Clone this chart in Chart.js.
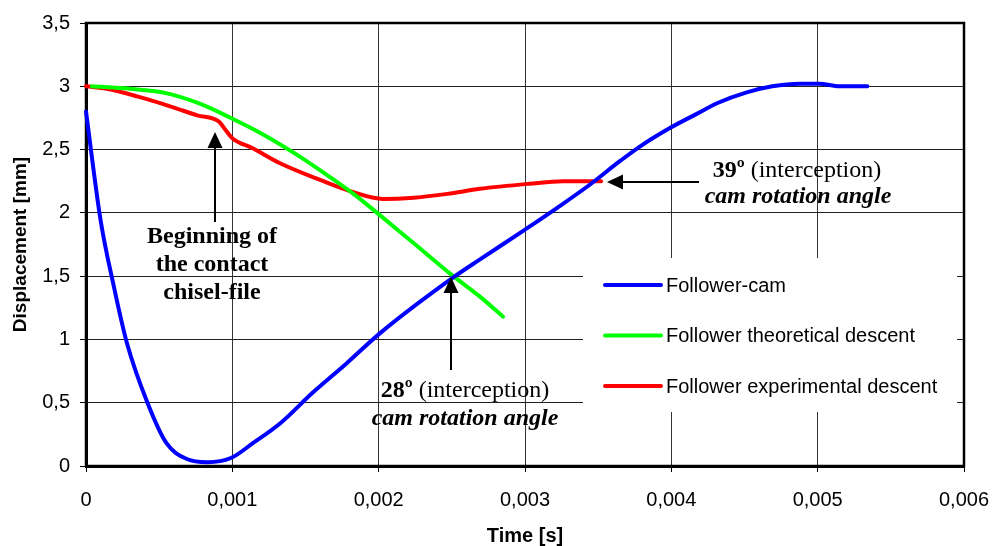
<!DOCTYPE html>
<html>
<head>
<meta charset="utf-8">
<title>Follower displacement</title>
<script src="https://cdn.jsdelivr.net/npm/chart.js@4.4.1/dist/chart.umd.min.js"></script>
<style>
  html, body { margin: 0; padding: 0; background: #fff; }
  #wrap { width: 992px; height: 546px; position: relative; }
</style>
</head>
<body>
<div id="wrap"><canvas id="chartCam"></canvas></div>
<script>
// Follower-cam (blue)
const camTime = [0, 0.0001, 0.00019, 0.00028, 0.00042, 0.00055, 0.00069, 0.00083, 0.00099, 0.00114,
  0.00133, 0.00155, 0.00178, 0.00201, 0.00251, 0.00269, 0.00299, 0.00322, 0.00344, 0.00365,
  0.00378, 0.00399, 0.00417, 0.00432, 0.00451, 0.00469, 0.00488, 0.00501, 0.00515, 0.00534];
const camDisp = [2.80, 1.94, 1.42, 0.97, 0.50, 0.18, 0.055, 0.03, 0.063, 0.18,
  0.34, 0.58, 0.81, 1.05, 1.49, 1.63, 1.86, 2.04, 2.22, 2.41,
  2.52, 2.67, 2.78, 2.87, 2.95, 3.0, 3.02, 3.02, 3.0, 3.0];

// Follower theoretical descent (green)
const theoTime = [0.00004, 0.0003, 0.00053, 0.00076, 0.00099, 0.00121, 0.00144, 0.00167, 0.00185,
  0.00201, 0.00224, 0.00251, 0.00269, 0.00285];
const theoDisp = [3.0, 2.98, 2.95, 2.87, 2.75, 2.62, 2.46, 2.28, 2.13,
  1.98, 1.76, 1.50, 1.34, 1.18];

// Follower experimental descent (red)
const expTime = [0, 0.00014, 0.00035, 0.00058, 0.00076, 0.00091, 0.00095, 0.001, 0.00114, 0.00133,
  0.0016, 0.00181, 0.00203, 0.00224, 0.00247, 0.00269, 0.00303, 0.00326, 0.00352];
const expDisp = [3.0, 2.98, 2.92, 2.84, 2.77, 2.72, 2.66, 2.59, 2.51, 2.39,
  2.26, 2.17, 2.11, 2.12, 2.15, 2.19, 2.23, 2.25, 2.25];

const seriesNames = ['Follower-cam', 'Follower theoretical descent', 'Follower experimental descent'];
const seriesColors = ['#0000ff', '#00ff00', '#ff0000'];

const xMin = 0, xMax = 0.006, xStep = 0.001;
const yMin = 0, yMax = 3.5, yStep = 0.5;

const toPoints = (xs, ys) => xs.map((x, i) => ({ x: x, y: ys[i] }));
const comma = v => String(Number(v.toFixed(3))).replace('.', ',');

const sansFont = "'Liberation Sans', Arial, sans-serif";
const serifFont = "'Liberation Serif', 'Times New Roman', serif";
Chart.defaults.font.family = sansFont;
Chart.defaults.color = '#000';

// white legend box + border
const frame = {
  id: 'frame',
  beforeDatasetsDraw(chart) {
    const { ctx, chartArea: a } = chart;
    ctx.save();
    ctx.strokeStyle = '#000';
    ctx.lineWidth = 2.5;
    ctx.strokeRect(a.left, a.top, a.right - a.left, a.bottom - a.top);

    const bx = 583, by = 258, bw = 374, bh = 154;
    ctx.fillStyle = '#fff';
    ctx.fillRect(bx, by, bw, bh);

    ctx.font = '20px ' + sansFont;
    ctx.textBaseline = 'middle';
    ctx.lineCap = 'round';
    seriesNames.forEach((name, i) => {
      const y = by + 27 + i * 50.5;
      ctx.strokeStyle = seriesColors[i];
      ctx.lineWidth = 4;
      ctx.beginPath();
      ctx.moveTo(bx + 22, y);
      ctx.lineTo(bx + 78, y);
      ctx.stroke();
      ctx.fillStyle = '#000';
      ctx.fillText(name, bx + 83, y + 1);
    });
    ctx.restore();
  }
};

function arrow(ctx, x1, y1, x2, y2) {
  // shaft from (x1,y1) to arrow tip (x2,y2)
  const ang = Math.atan2(y2 - y1, x2 - x1);
  const len = 16, half = 7.5;
  const bx = x2 - Math.cos(ang) * len, by = y2 - Math.sin(ang) * len;
  ctx.beginPath();
  ctx.moveTo(x1, y1);
  ctx.lineTo(bx, by);
  ctx.stroke();
  ctx.beginPath();
  ctx.moveTo(x2, y2);
  ctx.lineTo(bx + Math.sin(ang) * half, by - Math.cos(ang) * half);
  ctx.lineTo(bx - Math.sin(ang) * half, by + Math.cos(ang) * half);
  ctx.closePath();
  ctx.fill();
}

function mixedLine(ctx, cx, y, boldPart, rest) {
  ctx.font = 'bold 24px ' + serifFont;
  const w1 = ctx.measureText(boldPart).width;
  ctx.font = '24px ' + serifFont;
  const w2 = ctx.measureText(rest).width;
  const x0 = cx - (w1 + w2) / 2;
  ctx.textAlign = 'left';
  ctx.font = 'bold 24px ' + serifFont;
  ctx.fillText(boldPart, x0, y);
  ctx.font = '24px ' + serifFont;
  ctx.fillText(rest, x0 + w1, y);
}

const notes = {
  id: 'notes',
  afterDraw(chart) {
    const ctx = chart.ctx;
    ctx.save();
    ctx.fillStyle = '#000';
    ctx.strokeStyle = '#000';
    ctx.lineWidth = 2;
    ctx.textBaseline = 'alphabetic';

    arrow(ctx, 215, 222, 215, 132);
    ctx.textAlign = 'center';
    ctx.font = 'bold 24px ' + serifFont;
    ctx.fillText('Beginning of', 212, 243);
    ctx.fillText('the contact', 212, 271);
    ctx.fillText('chisel-file', 212, 299);

    arrow(ctx, 451, 370, 451, 277);
    mixedLine(ctx, 465, 397, '28º', ' (interception)');
    ctx.textAlign = 'center';
    ctx.font = 'italic bold 24px ' + serifFont;
    ctx.fillText('cam rotation angle', 465, 425);

    arrow(ctx, 699, 182, 607, 182);
    mixedLine(ctx, 797, 177, '39º', ' (interception)');
    ctx.textAlign = 'center';
    ctx.font = 'italic bold 24px ' + serifFont;
    ctx.fillText('cam rotation angle', 798, 203);
    ctx.restore();
  }
};

const lineStyle = color => ({
  borderColor: color,
  backgroundColor: color,
  borderWidth: 4,
  pointRadius: 0,
  cubicInterpolationMode: 'monotone',
  borderCapStyle: 'round',
  borderJoinStyle: 'round',
  fill: false,
  clip: false
});

new Chart(document.getElementById('chartCam').getContext('2d'), {
  type: 'line',
  data: {
    datasets: [
      Object.assign({ label: seriesNames[0], data: toPoints(camTime, camDisp) }, lineStyle(seriesColors[0])),
      Object.assign({ label: seriesNames[1], data: toPoints(theoTime, theoDisp) }, lineStyle(seriesColors[1])),
      Object.assign({ label: seriesNames[2], data: toPoints(expTime, expDisp) }, lineStyle(seriesColors[2]))
    ]
  },
  options: {
    responsive: true,
    maintainAspectRatio: false,
    animation: false,
    layout: { padding: { top: 23, right: 28, left: 0, bottom: 0 } },
    plugins: { legend: { display: false }, tooltip: { enabled: false } },
    scales: {
      x: {
        type: 'linear',
        min: xMin, max: xMax,
        afterFit: scale => {
          scale.height = 80;
          scale.paddingLeft = 0;
          scale.paddingRight = 0;
        },
        ticks: {
          stepSize: xStep,
          autoSkip: false,
          maxRotation: 0,
          padding: 16,
          color: '#000',
          font: { size: 20 },
          callback: v => comma(v)
        },
        grid: { color: '#333', lineWidth: 1, tickColor: '#000', tickLength: 6 },
        border: { display: true, color: '#000', width: 3 },
        title: {
          display: true, text: 'Time [s]', color: '#000',
          font: { size: 20, weight: 'bold', lineHeight: 1 },
          padding: { top: 0, bottom: 0 }
        }
      },
      y: {
        type: 'linear',
        min: yMin, max: yMax,
        afterFit: scale => {
          scale.width = 86;
          scale.paddingTop = 0;
          scale.paddingBottom = 0;
        },
        ticks: {
          stepSize: yStep,
          padding: 10,
          color: '#000',
          font: { size: 20 },
          callback: v => comma(v)
        },
        grid: { color: '#222', lineWidth: 1, tickColor: '#000', tickLength: 6 },
        border: { display: true, color: '#000', width: 3 },
        title: {
          display: true, text: 'Displacement [mm]', color: '#000',
          font: { size: 19, weight: 'bold', lineHeight: 1.2 },
          padding: { top: 9, bottom: 0 }
        }
      }
    }
  },
  plugins: [frame, notes]
});
</script>
</body>
</html>
